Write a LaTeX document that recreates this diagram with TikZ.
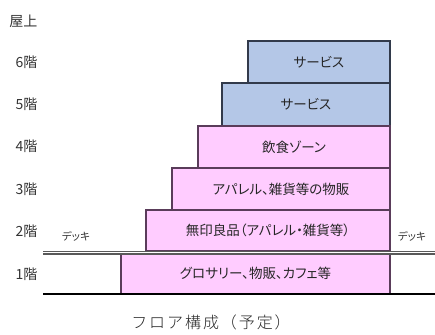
\documentclass[tikz,border=0pt]{standalone}
\usepackage{fontspec}
\setmainfont{Noto Sans CJK JP}
\newfontfamily\jp[RawFeature=+palt]{Noto Sans CJK JP}
\newfontfamily\capfont[LetterSpace=12]{Noto Sans CJK JP Light}
\usepackage{tikz}
\definecolor{pinkfill}{RGB}{255,204,255}
\definecolor{pinkline}{RGB}{90,60,90}
\definecolor{bluefill}{RGB}{180,199,231}
\definecolor{blueline}{RGB}{50,58,75}
\tikzstyle{pinkfloor}=[draw=pinkline,fill=pinkfill,line width=1.2pt]
\tikzstyle{bluefloor}=[draw=blueline,fill=bluefill,line width=1.2pt]
\tikzstyle{floortext}=[font=\jp\fontsize{13.5}{15}\selectfont,text=black!85]
\tikzstyle{levellabel}=[anchor=east,font=\jp\fontsize{14}{16}\selectfont,text=black!80]
\tikzstyle{decklabel}=[font=\jp\fontsize{10.5}{12}\selectfont,text=black!80]

\begin{document}
\begin{tikzpicture}[x=1pt,y=-1pt]  % y runs downward, units are pixels
\useasboundingbox (0,0) rectangle (435,334);

\draw[bluefloor] (248,41) rectangle (390,83) node[pos=0.5,floortext] (f6) {サービス};
\draw[bluefloor] (222,83) rectangle (390,126) node[pos=0.5,floortext] (f5) {サービス};
\draw[pinkfloor] (198,126) rectangle (390,168) node[pos=0.5,floortext] (f4) {飲食ゾーン};
\draw[pinkfloor] (172,168) rectangle (390,210) node[pos=0.5,floortext] (f3) {アパレル、雑貨等の物販};
\draw[pinkfloor] (146,210) rectangle (390,251) node[pos=0.5,floortext] (f2) {無印良品（アパレル・雑貨等）};
\draw[pinkfloor] (121,253) rectangle (390,294) node[pos=0.5,floortext] (f1) {グロサリー、物販、カフェ等};

% deck and ground
\coordinate (deckL) at (43,252.5);
\coordinate (deckR) at (435,252.5);
\coordinate (groundL) at (43,294);
\coordinate (groundR) at (435,294);
\draw[black!65,line width=1.2pt,double=white,double distance=1.6pt] (deckL) -- (deckR);
\draw[black,line width=2.2pt] (groundL) -- (groundR);

\node[levellabel] (roof) at (41,21) {屋上};
\node[levellabel] (l6) at (41,62) {6階};
\node[levellabel] (l5) at (41,104) {5階};
\node[levellabel] (l4) at (41,146) {4階};
\node[levellabel] (l3) at (41,189) {3階};
\node[levellabel] (l2) at (41,231) {2階};
\node[levellabel] (l1) at (41,274) {1階};

\node[decklabel] (deck1) at (76,236) {デッキ};
\node[decklabel] (deck2) at (412,236) {デッキ};

\node[font=\capfont\fontsize{16}{18}\selectfont,text=black!85] (caption) at (211,322) {フロア構成（予定）};
\end{tikzpicture}
\end{document}
